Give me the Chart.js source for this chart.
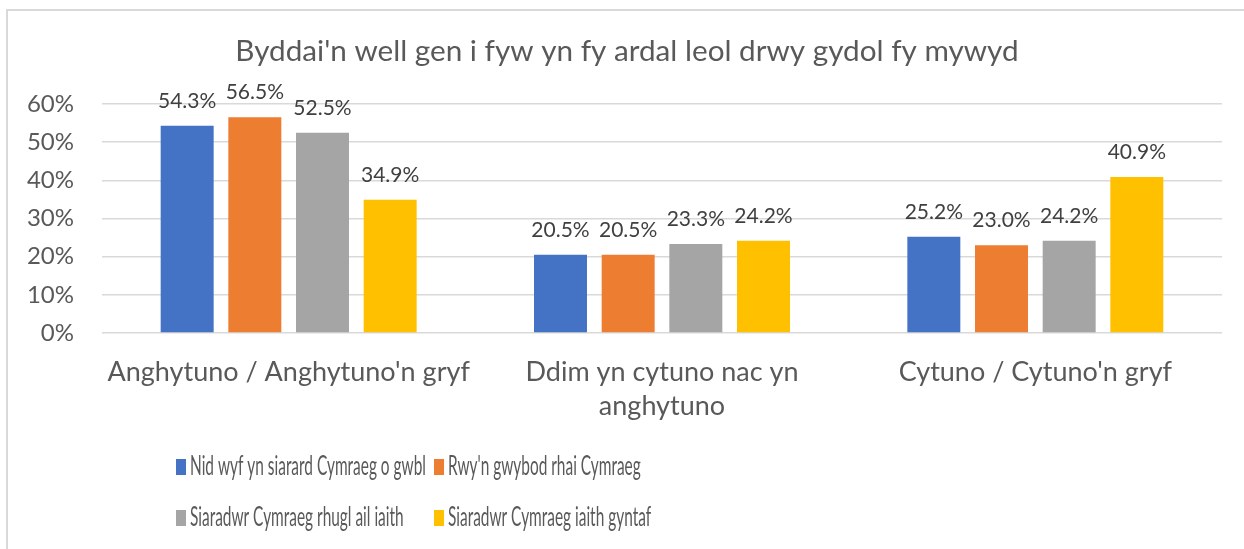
<!DOCTYPE html>
<html lang="cy">
<head>
<meta charset="utf-8">
<title>Byddai'n well gen i fyw yn fy ardal leol drwy gydol fy mywyd</title>
<script src="https://cdn.jsdelivr.net/npm/chart.js@4.4.1/dist/chart.umd.min.js"></script>
<style>
  html, body { margin: 0; padding: 0; background: #fff; }
  #wrap { position: relative; width: 1244px; height: 549px; overflow: hidden; }
  /* ffrâm lwyd y siart, yn rhedeg allan dros yr ymyl dde a'r gwaelod */
  #frame { position: absolute; left: 6px; top: 9px; width: 1270px; height: 570px;
           border: 2px solid #d9d9d9; box-sizing: border-box; }
  #chart { position: absolute; left: 0; top: 0; }
</style>
</head>
<body>
<div id="wrap">
  <div id="frame"></div>
  <canvas id="chart" width="1244" height="549"></canvas>
</div>
<script>
'use strict';

const TITLE = "Byddai'n well gen i fyw yn fy ardal leol drwy gydol fy mywyd";

const categories = [
    "Anghytuno / Anghytuno'n gryf",
    ['Ddim yn cytuno nac yn', 'anghytuno'],
    "Cytuno / Cytuno'n gryf"
];

const seriesNames = [
    'Nid wyf yn siarard Cymraeg o gwbl',
    "Rwy'n gwybod rhai Cymraeg",
    'Siaradwr Cymraeg rhugl ail iaith',
    'Siaradwr Cymraeg iaith gyntaf'
];

// canrannau, un gwerth i bob categori
const dimCymraeg   = [54.3, 20.5, 25.2];
const rhaiCymraeg  = [56.5, 20.5, 23.0];
const ailIaith     = [52.5, 23.3, 24.2];
const iaithGyntaf  = [34.9, 24.2, 40.9];

const yTicks = [0, 10, 20, 30, 40, 50, 60];

const colours = ['#4472C4', '#ED7D31', '#A5A5A5', '#FFC000'];
const textGrey = '#595959';

Chart.defaults.font.family = 'Lato, "Open Sans", sans-serif';

// teitl: wedi'i ganoli ar y ffrâm, nid ar yr ardal plotio
const frameTitle = {
    id: 'frameTitle',
    afterDraw(chart, args, opts) {
        const ctx = chart.ctx;
        ctx.save();
        ctx.font = opts.font;
        ctx.fillStyle = opts.color;
        ctx.textAlign = 'center';
        ctx.textBaseline = 'middle';
        ctx.fillText(opts.text, opts.x, opts.y);
        ctx.restore();
    }
};

// labeli gwerth uwchben pob bar
const valueLabels = {
    id: 'valueLabels',
    afterDatasetsDraw(chart, args, opts) {
        const ctx = chart.ctx;
        ctx.save();
        ctx.font = opts.font;
        ctx.fillStyle = opts.color;
        ctx.textAlign = 'center';
        ctx.textBaseline = 'alphabetic';
        chart.data.datasets.forEach((ds, i) => {
            chart.getDatasetMeta(i).data.forEach((bar, j) => {
                ctx.fillText(ds.data[j].toFixed(1) + '%', bar.x, bar.y - opts.offset);
            });
        });
        ctx.restore();
    }
};

// allwedd 2 x 2 gyda cholofnau wedi'u halinio; testun cul, tal
const gridLegend = {
    id: 'gridLegend',
    afterDraw(chart, args, opts) {
        const ctx = chart.ctx;
        ctx.save();
        ctx.font = opts.font;
        ctx.textBaseline = 'middle';
        chart.data.datasets.forEach((ds, i) => {
            const x = opts.columns[i % 2];
            const y = opts.rows[Math.floor(i / 2)];
            ctx.fillStyle = ds.backgroundColor;
            ctx.fillRect(x, y - 8, 10, 16);
            ctx.fillStyle = opts.color;
            ctx.save();
            ctx.translate(x + 14, y);
            ctx.scale(opts.squeeze, 1);
            ctx.fillText(ds.label, 0, 0);
            ctx.restore();
        });
        ctx.restore();
    }
};

const seriesData = [dimCymraeg, rhaiCymraeg, ailIaith, iaithGyntaf];

new Chart(document.getElementById('chart'), {
    type: 'bar',
    data: {
        labels: categories,
        datasets: seriesData.map((values, i) => ({
            label: seriesNames[i],
            data: values,
            backgroundColor: colours[i],
            borderWidth: 0,
            categoryPercentage: 0.725,
            barPercentage: 0.783
        }))
    },
    plugins: [frameTitle, valueLabels, gridLegend],
    options: {
        responsive: false,
        devicePixelRatio: 1,
        animation: false,
        layout: { padding: { left: 0, right: 22, top: 104, bottom: 0 } },
        plugins: {
            legend: { display: false },
            title: { display: false },
            tooltip: { enabled: false },
            frameTitle: { text: TITLE, font: '29.7px Lato', color: textGrey, x: 627, y: 51 },
            valueLabels: { font: '21px Lato', color: '#404040', offset: 18 },
            gridLegend: {
                font: '26px Lato',
                color: textGrey,
                columns: [176, 434],
                rows: [467, 518],
                squeeze: 0.593
            }
        },
        scales: {
            x: {
                grid: { display: false, drawTicks: false },
                border: { display: false },
                ticks: {
                    color: textGrey,
                    font: { size: 27, lineHeight: 1.26 },
                    padding: 22,
                    maxRotation: 0,
                    autoSkip: false
                },
                afterFit(scale) { scale.height = 216; }
            },
            y: {
                min: 0,
                max: 60,
                grid: { color: '#d9d9d9', lineWidth: 1.5, drawTicks: false },
                border: { display: false },
                ticks: {
                    color: textGrey,
                    font: { size: 24 },
                    padding: 28,
                    callback: v => v + '%'
                },
                afterBuildTicks(scale) { scale.ticks = yTicks.map(v => ({ value: v })); },
                afterFit(scale) { scale.width = 102; }
            }
        }
    }
});
</script>
</body>
</html>
